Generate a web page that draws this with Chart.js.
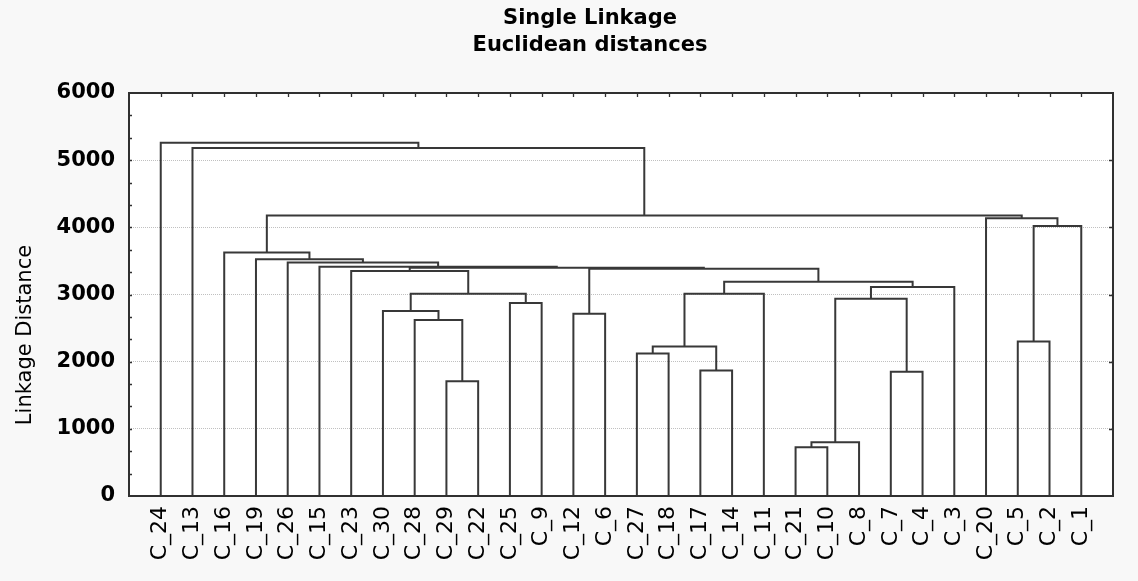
<!DOCTYPE html>
<html>
<head>
<meta charset="utf-8">
<title>Single Linkage</title>
<script src="https://cdn.jsdelivr.net/npm/chart.js@4.4.1/dist/chart.umd.min.js"></script>
<style>
  html, body { margin: 0; padding: 0; background: #f8f8f8; overflow: hidden; }
  #wrap { width: 1138px; height: 581px; position: relative; }
</style>
</head>
<body>
<div id="wrap"><canvas id="tree"></canvas></div>
<script>
// Leaf order along the horizontal axis
const leaves = ['C_24','C_13','C_16','C_19','C_26','C_15','C_23','C_30','C_28','C_29',
                'C_22','C_25','C_9','C_12','C_6','C_27','C_18','C_17','C_14','C_11',
                'C_21','C_10','C_8','C_7','C_4','C_3','C_20','C_5','C_2','C_1'];

// Agglomeration steps: ids below 30 are leaves, 30 + k is the cluster made at step k
const joinLeft  = [20, 30,  9, 23, 17, 15, 35, 27,  8, 13,  7, 11, 31, 40, 36,
                   42, 44,  6, 39, 47,  5,  4,  3,  2, 37, 26, 53,  1,  0];
const joinRight = [21, 22, 10, 24, 18, 16, 34, 28, 32, 14, 38, 12, 33, 41, 19,
                   25, 45, 43, 46, 48, 49, 50, 51, 52, 29, 54, 55, 56, 57];
const joinDist  = [725, 800, 1710, 1850, 1870, 2120, 2225, 2300, 2620, 2715, 2755, 2875, 2935, 3010, 3010,
                   3110, 3190, 3350, 3385, 3400, 3415, 3475, 3525, 3625, 4020, 4135, 4175, 5180, 5260];

// Value axis ticks
const distTicks = [0, 1000, 2000, 3000, 4000, 5000, 6000];

const titleLines = ['Single Linkage', 'Euclidean distances'];
const yTitle = 'Linkage Distance';

// Node positions: leaves sit at 1..n, a cluster sits midway between its two children
const nLeaf = leaves.length;
const nodeX = leaves.map((_, i) => i + 1);
const nodeH = leaves.map(() => 0);
joinDist.forEach((d, k) => {
  nodeX.push((nodeX[joinLeft[k]] + nodeX[joinRight[k]]) / 2);
  nodeH.push(d);
});

// One bracket per agglomeration step
const ink = '#383838';
const datasets = joinDist.map((d, k) => {
  const a = joinLeft[k], b = joinRight[k];
  return {
    data: [
      {x: nodeX[a], y: nodeH[a]},
      {x: nodeX[a], y: d},
      {x: nodeX[b], y: d},
      {x: nodeX[b], y: nodeH[b]}
    ],
    showLine: true,
    borderColor: ink,
    borderWidth: 2,
    pointRadius: 0,
    tension: 0,
    fill: false
  };
});

const FONT = 'DejaVu Sans';

// Backdrop, frame, inner tick marks and titles
const frame = {
  id: 'frame',
  beforeDraw(chart) {
    const {ctx, chartArea: a} = chart;
    ctx.save();
    ctx.fillStyle = '#f8f8f8';
    ctx.fillRect(0, 0, chart.width, chart.height);
    ctx.fillStyle = '#ffffff';
    ctx.fillRect(a.left, a.top, a.right - a.left, a.bottom - a.top);
    ctx.restore();
  },
  afterDraw(chart) {
    const {ctx, chartArea: a, scales: {x, y}} = chart;
    ctx.save();
    ctx.strokeStyle = '#303030';
    ctx.lineWidth = 2;
    ctx.strokeRect(a.left, a.top, a.right - a.left, a.bottom - a.top);

    ctx.lineWidth = 1.3;
    ctx.beginPath();
    // top edge: a tick above every leaf
    for (let v = 1; v <= nLeaf; v++) {
      const px = Math.round(x.getPixelForValue(v)) + 0.5;
      ctx.moveTo(px, a.top);
      ctx.lineTo(px, a.top + 4);
    }
    // left edge: ticks every third of a major step
    const step = distTicks[1] - distTicks[0];
    for (let v = step / 3; v < distTicks[distTicks.length - 1] - 1; v += step / 3) {
      const py = Math.round(y.getPixelForValue(v)) + 0.5;
      ctx.moveTo(a.left, py);
      ctx.lineTo(a.left + 3, py);
    }
    // right edge: major ticks
    distTicks.slice(1, -1).forEach(v => {
      const py = Math.round(y.getPixelForValue(v)) + 0.5;
      ctx.moveTo(a.right, py);
      ctx.lineTo(a.right - 4, py);
    });
    ctx.stroke();

    // chart title
    ctx.fillStyle = '#000000';
    ctx.textAlign = 'center';
    ctx.textBaseline = 'alphabetic';
    ctx.font = `bold 21px "${FONT}"`;
    ctx.fillText(titleLines[0], 590, 24);
    ctx.fillText(titleLines[1], 590, 51);

    // value axis title
    ctx.font = `21px "${FONT}"`;
    ctx.translate(31, 335);
    ctx.rotate(-Math.PI / 2);
    ctx.fillText(yTitle, 0, 0);
    ctx.restore();
  }
};

new Chart(document.getElementById('tree'), {
  type: 'scatter',
  data: { datasets },
  options: {
    responsive: true,
    maintainAspectRatio: false,
    animation: false,
    events: [],
    layout: { padding: { top: 93, right: 25, left: 0, bottom: 0 } },
    plugins: {
      legend: { display: false },
      tooltip: { enabled: false },
      title: { display: false }
    },
    scales: {
      x: {
        type: 'linear',
        min: 0,
        max: nLeaf + 1,
        afterFit(s) { s.height = 85; },
        afterBuildTicks(s) {
          s.ticks = leaves.map((_, i) => ({ value: i + 1 }));
        },
        grid: { display: false, drawTicks: false },
        border: { display: false },
        ticks: {
          autoSkip: false,
          minRotation: 90,
          maxRotation: 90,
          padding: 10,
          color: '#000000',
          font: { family: FONT, size: 22 },
          callback: v => leaves[v - 1] || ''
        }
      },
      y: {
        type: 'linear',
        min: distTicks[0],
        max: distTicks[distTicks.length - 1],
        afterFit(s) { s.width = 129; },
        afterBuildTicks(s) {
          s.ticks = distTicks.map(v => ({ value: v }));
        },
        grid: { color: '#c0c0c0', lineWidth: 1, drawTicks: false },
        border: { display: false, dash: [1, 1] },
        ticks: {
          padding: 14,
          color: '#000000',
          font: { family: FONT, size: 21, weight: 'bold' },
          callback: v => String(v)
        }
      }
    }
  },
  plugins: [frame]
});
</script>
</body>
</html>
